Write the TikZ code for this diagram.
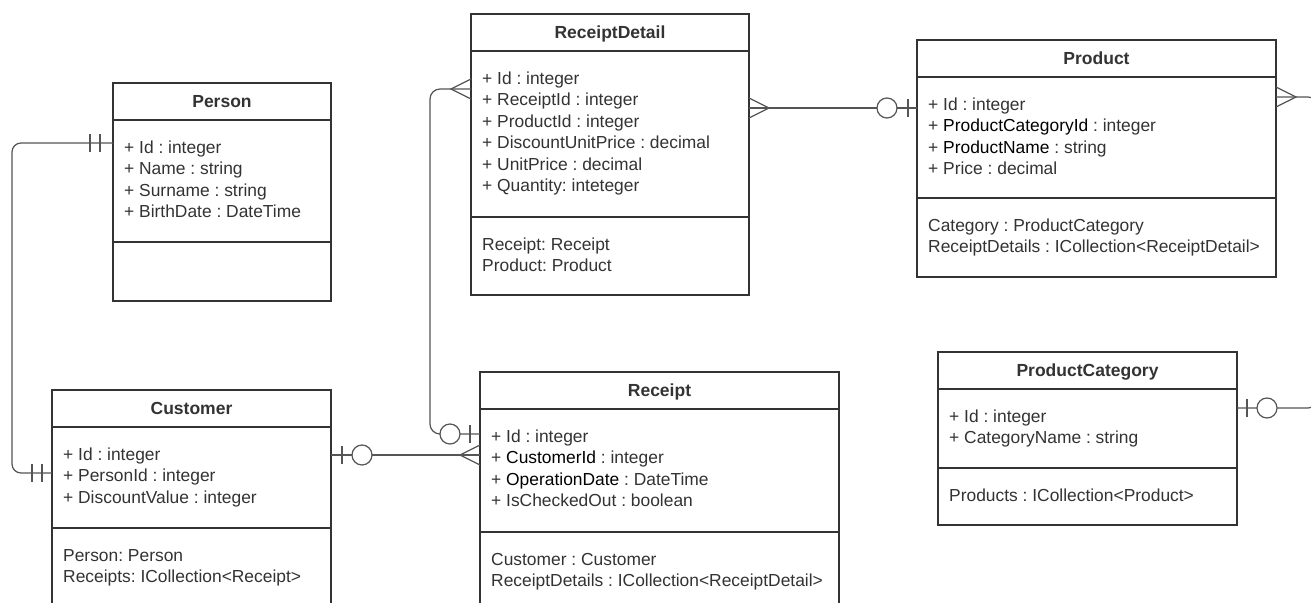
\documentclass[tikz,border=0pt]{standalone}
\usepackage{fontspec}
\setmainfont{Liberation Sans}
\usetikzlibrary{calc,fit}
\definecolor{ink}{HTML}{333333}
\definecolor{wire}{HTML}{555555}
\tikzset{
  boxline/.style={draw=ink, line width=1.8pt},
  entitybox/.style={draw=ink, line width=1.8pt, inner sep=0pt, outer sep=0pt},
  title/.style={anchor=base, inner sep=0pt, text=ink, font=\fontsize{17.5}{21.5}\selectfont\bfseries\frenchspacing},
  txt/.style={anchor=north west, inner sep=0pt, align=left, text=ink, font=\fontsize{17.4}{21.5}\selectfont\frenchspacing},
  conn/.style={draw=wire, line width=1.2pt},
  ring/.style={draw=wire, line width=1.2pt, fill=white},
}
\newcommand\umlentity[8]{%
  \node[entitybox, fit={(#2,#3) (#4,#5)}] (#1) {};
  \draw[boxline] ($(#1.north west)+(0,37)$) -- ($(#1.north east)+(0,37)$);
  \draw[boxline] (#2,#6) -- (#4,#6);
  \node[title] (#1-title) at ({(#2+#4)/2},#3+24) {#7};
  \node[txt] (#1-attrs) at (#2+11,#3+57) {\rule{0pt}{13pt}#8};
}
\newcommand\umlmethods[4]{%
  \node[txt] (#1-methods) at (#2+11,#3+20) {\rule{0pt}{13pt}#4};
}
\newcommand\erbar[2]{\draw[conn] ($(#1)+(#2,-9)$) -- ($(#1)+(#2,9)$);}
\newcommand\erring[2]{\draw[ring] ($(#1)+(#2,0)$) circle[radius=10pt];}
\newcommand\ercrow[2]{\draw[conn] ($(#1)+(0,-10)$) -- ($(#1)+(#2,0)$) -- ($(#1)+(0,10)$);}
\newcommand\dk[1]{\textcolor{black}{#1}}

\begin{document}
\begin{tikzpicture}[x=1pt,y=-1pt]
\useasboundingbox (0,0) rectangle (1311,602);
\clip (0,0) rectangle (1311,602);
\fill[white] (0,0) rectangle (1311,602);

% entities
\umlentity{person}{113}{83}{331}{301}{242}{Person}{%
+ Id : integer\\+ Name : string\\+ Surname : string\\+ BirthDate : DateTime}

\umlentity{cust}{52}{390}{331}{650}{528}{Customer}{%
+ Id : integer\\+ PersonId : integer\\+ DiscountValue : integer}
\umlmethods{cust}{52}{528}{Person: Person\\Receipts: ICollection<Receipt>}

\umlentity{rd}{471}{14}{749}{295}{217}{ReceiptDetail}{%
+ Id : integer\\+ ReceiptId : integer\\+ ProductId : integer\\+ DiscountUnitPrice : decimal\\+ UnitPrice : decimal\\+ Quantity: inteteger}
\umlmethods{rd}{471}{217}{Receipt: Receipt\\Product: Product}

\umlentity{rcpt}{480}{372}{839}{650}{532}{Receipt}{%
+ Id : integer\\+ \dk{CustomerId} : integer\\+ \dk{OperationDate} : DateTime\\+ IsCheckedOut : boolean}
\umlmethods{rcpt}{480}{532}{Customer : Customer\\ReceiptDetails : ICollection<ReceiptDetail>}

\umlentity{prod}{917}{40}{1276}{277}{198}{Product}{%
+ Id : integer\\+ \dk{ProductCategoryId} : integer\\+ \dk{ProductName} : string\\+ Price : decimal}
\umlmethods{prod}{917}{198}{Category : ProductCategory\\ReceiptDetails : ICollection<ReceiptDetail>}

\umlentity{pcat}{938}{352}{1237}{525}{468}{ProductCategory}{%
+ Id : integer\\+ CategoryName : string}
\umlmethods{pcat}{938}{468}{Products : ICollection<Product>}

% attachment points
\coordinate (pA)  at ($(person.north west)+(0,60)$);
\coordinate (cA)  at ($(cust.north west)+(0,83)$);
\coordinate (cB)  at ($(cust.north east)+(0,65)$);
\coordinate (rA)  at ($(rcpt.north west)+(0,83)$);
\coordinate (rB)  at ($(rcpt.north west)+(0,62)$);
\coordinate (dA)  at ($(rd.north west)+(0,75)$);
\coordinate (dB)  at ($(rd.north east)+(0,94)$);
\coordinate (prA) at ($(prod.north west)+(0,68)$);
\coordinate (prB) at ($(prod.north east)+(0,57)$);
\coordinate (pcA) at ($(pcat.north east)+(0,56)$);

% connectors
\draw[conn, rounded corners=9pt] (pA) -- ++(-101,0) |- (cA);
\draw[conn] (cB) -- (rA);
\draw[conn, rounded corners=10pt] (dA) -- ++(-41,0) |- (rB);
\draw[conn] (dB) -- (prA);
\draw[conn, rounded corners=10pt] (prB) -- ++(42,0) |- (pcA);

% end marks
\erbar{pA}{-13} \erbar{pA}{-23}
\erbar{cA}{-10} \erbar{cA}{-20}
\erbar{cB}{11} \erring{cB}{31}
\ercrow{rA}{-20}
\erbar{rB}{-10} \erring{rB}{-30}
\ercrow{dA}{-20}
\ercrow{dB}{20}
\erbar{prA}{-9} \erring{prA}{-30}
\ercrow{prB}{20}
\erbar{pcA}{10} \erring{pcA}{30}
\end{tikzpicture}
\end{document}
